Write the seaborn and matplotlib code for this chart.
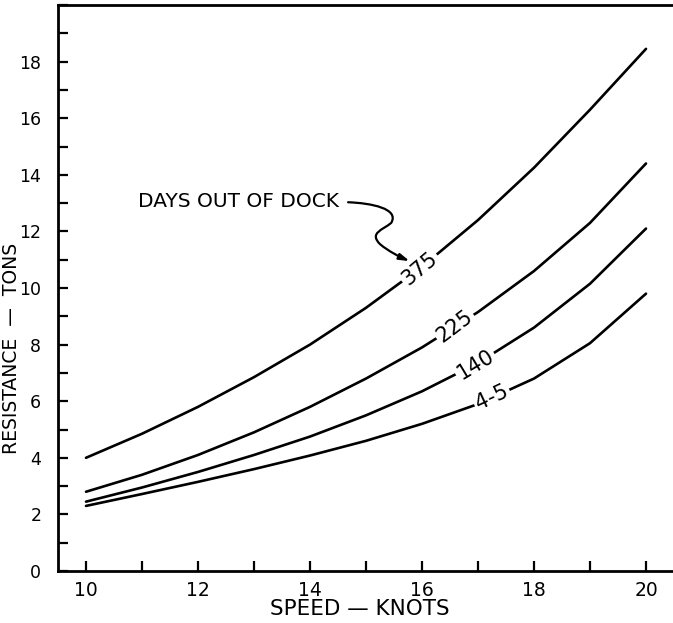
import numpy as np
import pandas as pd
import matplotlib
matplotlib.use("Agg")
import matplotlib.pyplot as plt
from matplotlib.path import Path
from matplotlib.patches import FancyArrowPatch
from matplotlib.ticker import MultipleLocator
import seaborn as sns

# ---- data ----
speed_knots = [10, 11, 12, 13, 14, 15, 16, 17, 18, 19, 20]
days_375 = [4.0, 4.85, 5.8, 6.85, 8.0, 9.3, 10.75, 12.4, 14.25, 16.3, 18.45]
days_225 = [2.8, 3.4, 4.1, 4.9, 5.8, 6.8, 7.9, 9.15, 10.6, 12.3, 14.4]
days_140 = [2.45, 2.95, 3.5, 4.1, 4.75, 5.5, 6.35, 7.35, 8.6, 10.15, 12.1]
days_4_5 = [2.3, 2.72, 3.15, 3.6, 4.08, 4.6, 5.2, 5.9, 6.8, 8.05, 9.8]
series_names = ["375", "225", "140", "4-5"]
x_tick_labels = ["10", "12", "14", "16", "18", "20"]
y_tick_labels = ["0", "2", "4", "6", "8", "10", "12", "14", "16", "18"]

series_values = [days_375, days_225, days_140, days_4_5]
df = pd.concat(
    [pd.DataFrame({"speed": speed_knots, "resistance": vals, "days": name})
     for name, vals in zip(series_names, series_values)],
    ignore_index=True,
)

sns.set_theme(style="white")
plt.rcParams["font.family"] = ["DejaVu Sans"]

fig = plt.figure(figsize=(6.73, 6.23), dpi=100)
ax = fig.add_axes([58 / 673, 1 - 571 / 623, (674 - 58) / 673, (571 - 5) / 623])

sns.lineplot(data=df, x="speed", y="resistance", hue="days",
             palette=["black"] * 4, legend=False, linewidth=1.9, ax=ax,
             estimator=None, sort=True)
for line in ax.get_lines():
    line.set_solid_joinstyle("round")

ax.set_xlim(9.5, 20.5)
ax.set_ylim(0, 20)

ax.xaxis.set_minor_locator(MultipleLocator(1))
ax.yaxis.set_minor_locator(MultipleLocator(1))
ax.set_xticks([int(t) for t in x_tick_labels])
ax.set_xticklabels(x_tick_labels)
ax.set_yticks([int(t) for t in y_tick_labels])
ax.set_yticklabels(y_tick_labels)

ax.tick_params(axis="both", which="both", direction="in", length=7, width=1.6,
               color="black", labelsize=12.5, labelcolor="black")
ax.tick_params(axis="x", which="both", labelsize=13.5, pad=7, top=False, bottom=True)
ax.tick_params(axis="y", which="both", pad=12, left=True, right=False)

for side in ["left", "bottom", "top"]:
    ax.spines[side].set_visible(True)
    ax.spines[side].set_color("black")
    ax.spines[side].set_linewidth(2.0)
ax.spines["right"].set_visible(False)

ax.set_xlabel("SPEED — KNOTS", fontsize=15.5, color="black")
ax.set_ylabel("RESISTANCE  —  TONS", fontsize=13.5, color="black")
ax.yaxis.set_label_coords(-0.060, 0.394)
ax.xaxis.set_label_coords(0.49, -0.050)
ax.grid(False)

# ---- inline curve labels ----
label_pos = {"375": (15.96, 40), "225": (16.59, 37), "140": (16.95, 31), "4-5": (17.25, 25)}
for name, vals in zip(series_names, series_values):
    lx, rot = label_pos[name]
    ly = float(np.interp(lx, speed_knots, vals))
    ax.text(lx, ly, name, rotation=rot, rotation_mode="anchor",
            ha="center", va="center", fontsize=15, color="black",
            bbox=dict(facecolor="white", edgecolor="none", pad=1.5), zorder=5)

# ---- annotation ----
ax.text(10.93, 13.05, "DAYS OUT OF DOCK", fontsize=14.5, color="black",
        ha="left", va="center")
verts = [(14.68, 13.03), (15.1, 13.0), (15.6, 12.8), (15.45, 12.3),
         (15.3, 12.05), (15.05, 11.95), (15.25, 11.55),
         (15.4, 11.3), (15.6, 11.1), (15.78, 10.95)]
codes = [Path.MOVETO, Path.CURVE4, Path.CURVE4, Path.CURVE4,
         Path.CURVE4, Path.CURVE4, Path.CURVE4,
         Path.CURVE4, Path.CURVE4, Path.CURVE4]
arrow = FancyArrowPatch(path=Path(verts, codes), arrowstyle="-|>,head_length=6,head_width=1.8",
                        color="black", linewidth=1.6, mutation_scale=1, zorder=6)
ax.add_patch(arrow)

fig.savefig("out.png", dpi=100)
